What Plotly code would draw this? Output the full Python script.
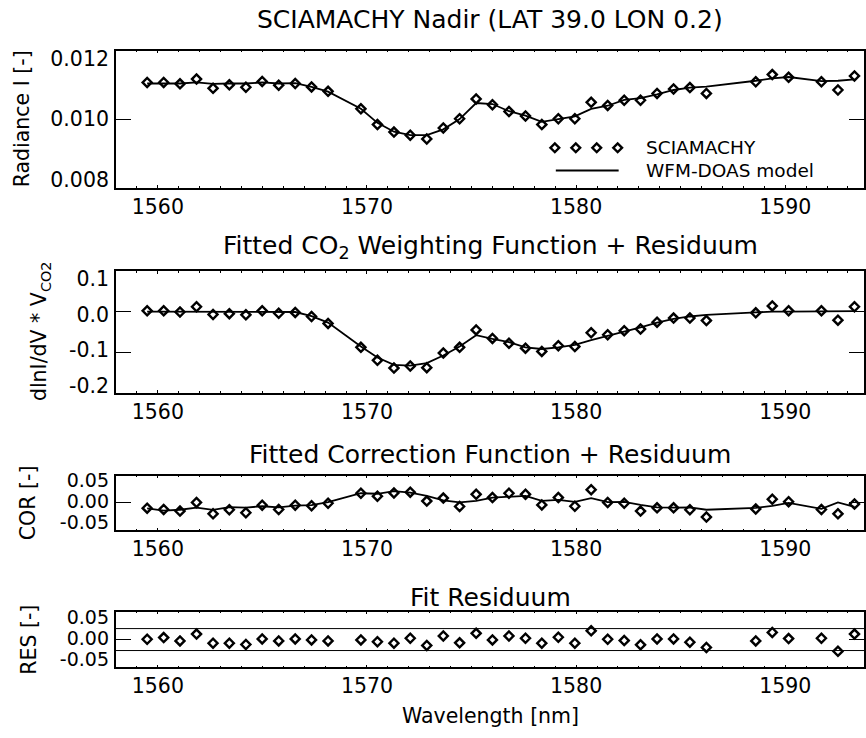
import plotly.graph_objects as go

# ---------------- data ----------------
wavelength = [1559.49, 1560.28, 1561.06, 1561.85, 1562.64, 1563.42, 1564.21, 1564.99,
              1565.78, 1566.57, 1567.35, 1568.14, 1569.71, 1570.50, 1571.29, 1572.07,
              1572.86, 1573.65, 1574.43, 1575.22, 1576.00, 1576.79, 1577.58, 1578.36,
              1579.15, 1579.94, 1580.72, 1581.51, 1582.30, 1583.08, 1583.87, 1584.66,
              1585.44, 1586.23, 1588.59, 1589.38, 1590.16, 1591.73, 1592.52, 1593.31]

radiance_meas = [0.01107, 0.01107, 0.01103, 0.01117, 0.01090, 0.01100, 0.01093, 0.01110,
                 0.01099, 0.01104, 0.01094, 0.01081, 0.01030, 0.00984, 0.00962, 0.00953,
                 0.00942, 0.00974, 0.01001, 0.01059, 0.01042, 0.01022, 0.01009, 0.00984,
                 0.01001, 0.01001, 0.01049, 0.01040, 0.01055, 0.01055, 0.01075, 0.01088,
                 0.01092, 0.01075, 0.01109, 0.01130, 0.01122, 0.01109, 0.01085, 0.01126]

radiance_model = [0.01104, 0.01104, 0.01104, 0.01107, 0.01103, 0.01104, 0.01104, 0.01107,
                  0.01104, 0.01105, 0.01094, 0.01080, 0.01030, 0.00989, 0.00963, 0.00953,
                  0.00953, 0.00970, 0.01000, 0.01047, 0.01044, 0.01023, 0.01010, 0.00992,
                  0.00999, 0.01008, 0.01030, 0.01039, 0.01056, 0.01061, 0.01072, 0.01085,
                  0.01092, 0.01095, 0.01112, 0.01119, 0.01123, 0.01111, 0.01112, 0.01116]

wf_meas = [0.002, 0.002, -0.001, 0.012, -0.007, -0.005, -0.008, 0.002,
           -0.004, -0.002, -0.012, -0.029, -0.088, -0.120, -0.139, -0.134,
           -0.138, -0.102, -0.088, -0.045, -0.066, -0.078, -0.090, -0.098,
           -0.084, -0.086, -0.052, -0.057, -0.047, -0.043, -0.026, -0.016,
           -0.016, -0.022, -0.003, 0.014, 0.002, 0.002, -0.021, 0.012]

wf_model = [0.0, 0.0, 0.0, 0.0, 0.0, 0.0, 0.0, 0.0,
            0.0, -0.001, -0.011, -0.027, -0.086, -0.113, -0.131, -0.133,
            -0.127, -0.108, -0.086, -0.058, -0.067, -0.075, -0.088, -0.092,
            -0.088, -0.082, -0.070, -0.060, -0.049, -0.039, -0.027, -0.018,
            -0.012, -0.008, -0.002, 0.0, 0.0, 0.001, 0.001, 0.001]

cor_meas = [-0.0095, -0.012, -0.015, 0.001, -0.020, -0.0125, -0.018, -0.004,
            -0.012, -0.004, -0.005, -0.0005, 0.018, 0.0125, 0.0185, 0.020,
            0.0035, 0.009, -0.0065, 0.016, 0.010, 0.018, 0.016, -0.0035,
            0.010, -0.006, 0.0245, 0.001, -0.0005, -0.015, -0.009, -0.009,
            -0.0125, -0.026, -0.011, 0.007, 0.0025, -0.012, -0.020, -0.002]

cor_model = [-0.010, -0.014, -0.0125, -0.0085, -0.0127, -0.0077, -0.0085, -0.006,
             -0.008, -0.005, -0.004, 0.0015, 0.018, 0.017, 0.022, 0.019,
             0.013, 0.005, 0.001, 0.004, 0.010, 0.012, 0.013, 0.004,
             0.0057, 0.002, 0.009, 0.0015, 0.002, -0.0035, -0.008, -0.0085,
             -0.008, -0.0125, -0.009, -0.0055, 0.0003, -0.011, 0.001, -0.007]

residual = [0.0006, 0.0036, -0.0024, 0.010, -0.0066, -0.0066, -0.009, 0.0012,
            -0.0024, 0.0012, -0.0006, -0.0024, -0.0006, -0.004, -0.0066, 0.0024,
            -0.0107, 0.0066, -0.006, 0.0113, -0.0006, 0.0066, 0.0024, -0.0066,
            0.0042, -0.0066, 0.016, 0.0006, -0.0018, -0.0095, 0.0012, 0.0012,
            -0.0048, -0.0143, -0.0024, 0.013, 0.0018, 0.0024, -0.0214, 0.010]

res_band = [-0.02, 0.02]

x_tick_vals = [1560, 1570, 1580, 1590]
x_tick_text = ["1560", "1570", "1580", "1590"]
rad_tick_vals = [0.008, 0.010, 0.012]
rad_tick_text = ["0.008", "0.010", "0.012"]
wf_tick_vals = [-0.2, -0.1, 0.0, 0.1]
wf_tick_text = ["-0.2", "-0.1", "0.0", "0.1"]
small_tick_vals = [-0.05, 0.0, 0.05]
small_tick_text = ["-0.05", "0.00", "0.05"]

panel_titles = ["SCIAMACHY Nadir (LAT 39.0 LON 0.2)",
                "Fitted CO<sub>2</sub> Weighting Function + Residuum",
                "Fitted Correction Function + Residuum",
                "Fit Residuum"]
y_titles = ["Radiance I [-]", "dlnI/dV * V<sub>CO2</sub>", "COR [-]", "RES [-]"]
x_title = "Wavelength [nm]"
legend_names = ["SCIAMACHY", "WFM-DOAS model"]

# ---------------- layout geometry ----------------
W, H = 866, 738
ML = 116
PW = W - ML
FONT = "DejaVu Sans"
TICK_SIZE = 20.5
SMALL_TICK_SIZE = 19
TITLE_SIZE = 25


def px_x(px):
    return (px - ML) / PW


def px_y(py):
    return 1 - py / H


# panel (top px, bottom px)
panels_px = [(45.3, 184.3), (269.0, 392.7), (477.0, 532.0), (615.3, 671.0)]
y_ranges = [[0.008, 0.012], [-0.2, 0.1], [-0.05, 0.05], [-0.05, 0.05]]
label_ranges = [[0.00774, 0.01226], [-0.2194, 0.1213], [-0.069, 0.0619], [-0.069, 0.0619]]
label_sizes = [TICK_SIZE, TICK_SIZE, SMALL_TICK_SIZE, SMALL_TICK_SIZE]
tick_sets = [(rad_tick_vals, rad_tick_text), (wf_tick_vals, wf_tick_text),
             (small_tick_vals, small_tick_text), (small_tick_vals, small_tick_text)]
title_cy = [14, 245, 455, 600]
ytitle_cx = [22, 40, 28, 28]
x_range = [1558.0, 1558.0 + PW / 20.97]

fig = go.Figure()

line_style = dict(color="black", width=1.8)
marker_style = dict(symbol="diamond-open", size=7, color="black",
                    line=dict(color="black", width=2.4))

series = [(radiance_meas, radiance_model), (wf_meas, wf_model),
          (cor_meas, cor_model), (residual, None)]

for i, (meas, model) in enumerate(series):
    xa = "x" if i == 0 else f"x{i + 1}"
    ya = "y" if i == 0 else f"y{i + 1}"
    if model is not None:
        fig.add_trace(go.Scatter(x=wavelength, y=model, mode="lines", line=line_style,
                                 xaxis=xa, yaxis=ya, showlegend=False, hoverinfo="skip"))
    fig.add_trace(go.Scatter(x=wavelength, y=meas, mode="markers", marker=marker_style,
                             xaxis=xa, yaxis=ya, showlegend=False))
    # empty trace for the tick-label overlay axis
    fig.add_trace(go.Scatter(x=[], y=[], xaxis=xa, yaxis=f"y{i + 5}",
                             showlegend=False, hoverinfo="skip"))

layout = dict(
    width=W, height=H,
    margin=dict(l=ML, r=0, t=0, b=0, pad=0),
    paper_bgcolor="white", plot_bgcolor="white",
    font=dict(family=FONT, color="black", size=TICK_SIZE),
    showlegend=False,
)

annotations = []
shapes = []

for i in range(4):
    top, bot = panels_px[i]
    dom = [px_y(bot), px_y(top)]
    xname = "xaxis" if i == 0 else f"xaxis{i + 1}"
    yname = "yaxis" if i == 0 else f"yaxis{i + 1}"
    yref = "y" if i == 0 else f"y{i + 1}"
    xref = "x" if i == 0 else f"x{i + 1}"
    small = i >= 2
    layout[xname] = dict(
        domain=[0, 1], anchor=yref, range=x_range,
        tickvals=x_tick_vals, ticktext=x_tick_text,
        ticks="inside", ticklen=2 if small else 3, tickwidth=1, tickcolor="black",
        minor=dict(dtick=1, ticks="inside", ticklen=1 if small else 2,
                   tickwidth=1, tickcolor="black", showgrid=False),
        showline=True, linecolor="black", linewidth=1.5, mirror="ticks",
        showgrid=False, zeroline=False,
        tickfont=dict(family=FONT, size=TICK_SIZE, color="black"),
        ticklabelstandoff=0,
    )
    tv, tt = tick_sets[i]
    layout[yname] = dict(
        domain=dom, anchor=xref, range=y_ranges[i],
        tickvals=tv, showticklabels=False,
        ticks="inside", ticklen=15, tickwidth=1, tickcolor="black",
        showline=True, linecolor="black", linewidth=1.5, mirror="ticks",
        showgrid=False, zeroline=False,
    )
    layout[f"yaxis{i + 5}"] = dict(
        overlaying=yref, anchor=xref, side="left", range=label_ranges[i],
        tickvals=tv, ticktext=tt, ticks="", showline=False,
        showgrid=False, zeroline=False, ticklabelstandoff=6,
        tickfont=dict(family=FONT, size=label_sizes[i], color="black"),
    )
    # panel title
    annotations.append(dict(text=panel_titles[i], xref="paper", yref="paper",
                            x=0.5, y=px_y(title_cy[i]), xanchor="center", yanchor="middle",
                            showarrow=False, font=dict(family=FONT, size=TITLE_SIZE, color="black")))
    # y title
    annotations.append(dict(text=y_titles[i], xref="paper", yref="paper",
                            x=px_x(ytitle_cx[i]), y=(dom[0] + dom[1]) / 2,
                            xanchor="center", yanchor="middle", textangle=-90,
                            showarrow=False, font=dict(family=FONT, size=TICK_SIZE, color="black")))

# residual band lines
for b in res_band:
    shapes.append(dict(type="line", xref="x4 domain", yref="y4", x0=0, x1=1, y0=b, y1=b,
                       line=dict(color="black", width=1)))

# x title
annotations.append(dict(text=x_title, xref="paper", yref="paper", x=0.5, y=px_y(721),
                        xanchor="center", yanchor="middle", showarrow=False,
                        font=dict(family=FONT, size=TICK_SIZE, color="black")))

# legend (drawn as key shapes + text)
LEG_FONT = 18.5
for cx in [556, 577, 598, 619]:
    cy, h = 144, 4.4
    path = (f"M {px_x(cx - h)},{px_y(cy)} L {px_x(cx)},{px_y(cy - h)} "
            f"L {px_x(cx + h)},{px_y(cy)} L {px_x(cx)},{px_y(cy + h)} Z")
    shapes.append(dict(type="path", xref="paper", yref="paper", path=path,
                       line=dict(color="black", width=2.4), fillcolor="rgba(0,0,0,0)"))
shapes.append(dict(type="line", xref="paper", yref="paper",
                   x0=px_x(557), x1=px_x(620), y0=px_y(167), y1=px_y(167),
                   line=dict(color="black", width=1.8)))
for name, cy in zip(legend_names, [144, 167]):
    annotations.append(dict(text=name, xref="paper", yref="paper", x=px_x(645), y=px_y(cy),
                            xanchor="left", yanchor="middle", showarrow=False,
                            font=dict(family=FONT, size=LEG_FONT, color="black")))

layout["annotations"] = annotations
layout["shapes"] = shapes
fig.update_layout(**layout)

fig.write_html("out.html", config={"displayModeBar": False},
               post_script="document.body.style.margin='0px';")
